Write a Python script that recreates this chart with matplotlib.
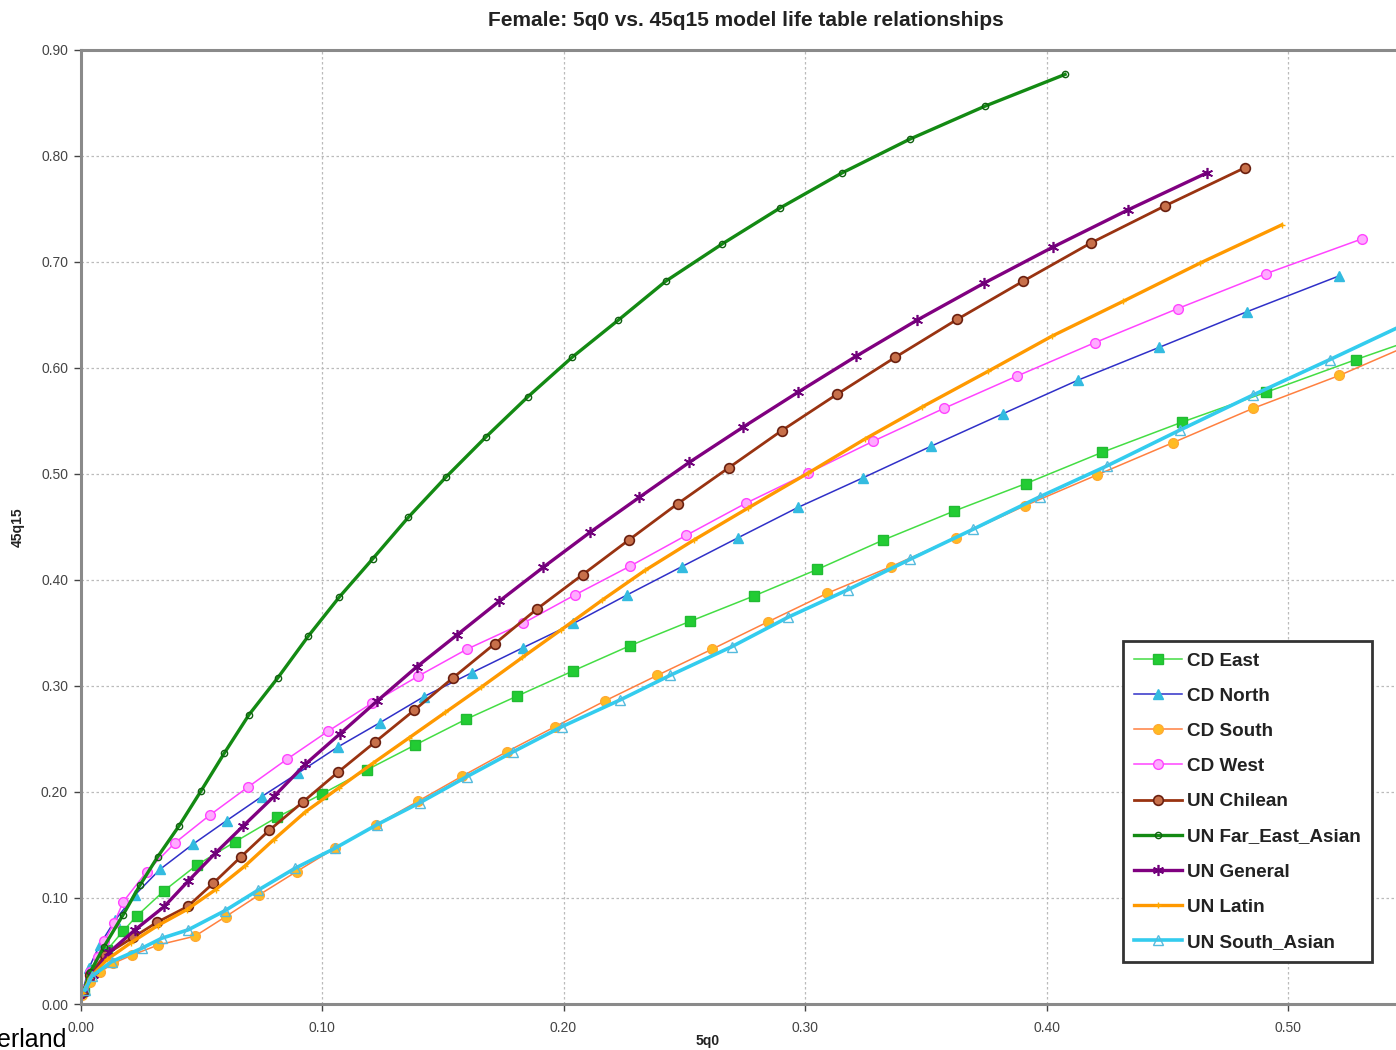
import matplotlib
matplotlib.use("Agg")
import matplotlib.pyplot as plt

plt.rcParams['font.family'] = ['Liberation Sans', 'DejaVu Sans']

# ---------------- data ----------------
cd_east_x = [0.0015, 0.005, 0.011, 0.0177, 0.0233, 0.0347, 0.0481, 0.064, 0.0812, 0.0999, 0.1185, 0.1385,
             0.1596, 0.1809, 0.2041, 0.2275, 0.2524, 0.2789, 0.3051, 0.3324, 0.3617, 0.3915, 0.4231,
             0.4562, 0.4908, 0.5282, 0.556]
cd_east_y = [0.013, 0.032, 0.051, 0.069, 0.083, 0.107, 0.131, 0.153, 0.176, 0.198, 0.2208, 0.2443,
             0.2686, 0.2906, 0.3144, 0.338, 0.361, 0.385, 0.410, 0.4377, 0.465, 0.491, 0.5205,
             0.549, 0.577, 0.608, 0.630]

cd_north_x = [0.001, 0.0035, 0.008, 0.0143, 0.0226, 0.0329, 0.0467, 0.0605, 0.075, 0.0902, 0.1067, 0.124,
              0.1422, 0.162, 0.1831, 0.2041, 0.2262, 0.2489, 0.2724, 0.2972, 0.3241, 0.352, 0.3821,
              0.4132, 0.4467, 0.4829, 0.5213]
cd_north_y = [0.013, 0.034, 0.056, 0.079, 0.103, 0.127, 0.151, 0.173, 0.1956, 0.218, 0.2427, 0.2654,
              0.290, 0.3125, 0.336, 0.359, 0.3858, 0.4125, 0.440, 0.4686, 0.4965, 0.526, 0.557,
              0.5887, 0.6195, 0.653, 0.687]

cd_south_x = [0.0006, 0.004, 0.008, 0.0136, 0.0212, 0.0322, 0.0474, 0.0601, 0.074, 0.0895, 0.1054, 0.1224,
              0.1399, 0.1581, 0.1765, 0.1965, 0.2172, 0.2388, 0.2614, 0.2848, 0.3092, 0.3355, 0.3625,
              0.391, 0.4208, 0.4523, 0.4856, 0.5213, 0.5547]
cd_south_y = [0.0085, 0.021, 0.030, 0.0384, 0.046, 0.0557, 0.064, 0.0824, 0.103, 0.125, 0.147, 0.169,
              0.1915, 0.215, 0.238, 0.2616, 0.286, 0.310, 0.3346, 0.3607, 0.3875, 0.4125, 0.440,
              0.470, 0.499, 0.5295, 0.562, 0.593, 0.626]

cd_west_x = [0.001, 0.004, 0.0071, 0.0099, 0.014, 0.0177, 0.0274, 0.0391, 0.0536, 0.0692, 0.0854, 0.1026,
             0.1206, 0.1399, 0.1599, 0.1831, 0.2048, 0.2275, 0.2507, 0.2754, 0.3014, 0.3283, 0.3576,
             0.3879, 0.4201, 0.4543, 0.4909, 0.5305]
cd_west_y = [0.013, 0.030, 0.0446, 0.0597, 0.0767, 0.0965, 0.1248, 0.152, 0.1783, 0.2044, 0.2308, 0.2575,
             0.2837, 0.3094, 0.3346, 0.359, 0.386, 0.413, 0.442, 0.4723, 0.501, 0.531, 0.562,
             0.5925, 0.624, 0.656, 0.689, 0.7217]

un_chilean_x = [0.001, 0.004, 0.010, 0.0219, 0.0316, 0.0444, 0.055, 0.0665, 0.0782, 0.0923, 0.1068, 0.1219,
                0.1381, 0.1544, 0.1716, 0.1892, 0.2079, 0.2272, 0.2473, 0.2685, 0.2904, 0.3131, 0.3373,
                0.3631, 0.3904, 0.4184, 0.4491, 0.4822]
un_chilean_y = [0.011, 0.027, 0.046, 0.063, 0.077, 0.092, 0.114, 0.139, 0.164, 0.191, 0.219, 0.247,
                0.277, 0.308, 0.340, 0.373, 0.405, 0.438, 0.472, 0.506, 0.541, 0.575, 0.610,
                0.646, 0.682, 0.718, 0.753, 0.789]

un_fareast_x = [0.001, 0.004, 0.0097, 0.0176, 0.0246, 0.032, 0.0408, 0.0499, 0.0595, 0.0698, 0.0818, 0.0943,
                0.1072, 0.121, 0.1357, 0.1513, 0.1679, 0.1853, 0.2035, 0.2226, 0.2424, 0.2657, 0.2897,
                0.3153, 0.3435, 0.3745, 0.4077]
un_fareast_y = [0.010, 0.030, 0.054, 0.084, 0.112, 0.139, 0.168, 0.201, 0.2365, 0.273, 0.308, 0.347,
                0.384, 0.420, 0.459, 0.497, 0.535, 0.573, 0.610, 0.645, 0.682, 0.717, 0.751,
                0.784, 0.816, 0.847, 0.877]

un_general_x = [0.001, 0.005, 0.012, 0.0226, 0.0347, 0.0446, 0.0557, 0.0674, 0.0802, 0.093, 0.1075, 0.1229,
                0.1392, 0.1558, 0.1734, 0.1916, 0.211, 0.2314, 0.2521, 0.2742, 0.297, 0.3211, 0.3463,
                0.3741, 0.4026, 0.4336, 0.4663]
un_general_y = [0.010, 0.027, 0.049, 0.070, 0.092, 0.116, 0.142, 0.168, 0.196, 0.226, 0.255, 0.286,
                0.318, 0.348, 0.380, 0.412, 0.445, 0.478, 0.511, 0.544, 0.577, 0.611, 0.645,
                0.680, 0.714, 0.749, 0.784]

un_latin_x = [0.001, 0.004, 0.011, 0.021, 0.032, 0.044, 0.056, 0.068, 0.080, 0.093, 0.107, 0.121,
              0.136, 0.151, 0.166, 0.183, 0.199, 0.216, 0.2337, 0.2542, 0.2765, 0.3014, 0.3248,
              0.3483, 0.3759, 0.4022, 0.4318, 0.4636, 0.4974]
un_latin_y = [0.010, 0.025, 0.042, 0.058, 0.074, 0.089, 0.108, 0.130, 0.155, 0.181, 0.204, 0.227,
              0.251, 0.275, 0.299, 0.327, 0.353, 0.381, 0.409, 0.438, 0.468, 0.501, 0.533,
              0.563, 0.597, 0.630, 0.663, 0.699, 0.735]

un_south_asian_x = [0.0019, 0.0046, 0.0129, 0.0253, 0.0336, 0.0446, 0.0598, 0.0736, 0.0888, 0.1054, 0.1226,
                    0.1406, 0.1599, 0.1792, 0.1993, 0.2234, 0.2441, 0.2696, 0.2931, 0.3179, 0.3435,
                    0.3697, 0.3973, 0.4249, 0.4553, 0.4855, 0.5174, 0.550]
un_south_asian_y = [0.013, 0.026, 0.040, 0.0525, 0.062, 0.070, 0.088, 0.1075, 0.128, 0.147, 0.169,
                    0.190, 0.2144, 0.238, 0.2616, 0.2868, 0.310, 0.337, 0.365, 0.391, 0.4195,
                    0.448, 0.4786, 0.5075, 0.5415, 0.5745, 0.608, 0.643]

series_names = ["CD East", "CD North", "CD South", "CD West", "UN Chilean",
                "UN Far_East_Asian", "UN General", "UN Latin", "UN South_Asian"]

x_ticks = [0.0, 0.1, 0.2, 0.3, 0.4, 0.5]
y_ticks = [0.0, 0.1, 0.2, 0.3, 0.4, 0.5, 0.6, 0.7, 0.8, 0.9]

title = "Female: 5q0 vs. 45q15 model life table relationships"
x_label = "5q0"
y_label = "45q15"

# ---------------- styles ----------------
styles = [
    dict(color='#44dd44', lw=1.1, marker='s', ms=7, mfc='#22cc33', mec='#22bb33'),
    dict(color='#3030c8', lw=1.1, marker='^', ms=7, mfc='#33bbe0', mec='#33bbe0'),
    dict(color='#ff8040', lw=1.1, marker='o', ms=7, mfc='#ffbb22', mec='#ffaa33'),
    dict(color='#ff44ff', lw=1.1, marker='o', ms=7, mfc='#ffaaff', mec='#ff44ff'),
    dict(color='#993311', lw=2.0, marker='o', ms=7, mfc='#c8704a', mec='#6a2010', mew=1.2),
    dict(color='#138a13', lw=2.4, marker='o', ms=4.5, mfc='none', mec='#106010', mew=1.0),
    dict(color='#800080', lw=2.4, marker=(6, 2, 0), ms=8, mfc='#800080', mec='#70007a', mew=1.2),
    dict(color='#ff9900', lw=2.4, marker='+', ms=5, mec='#ffaa00', mew=1.0),
    dict(color='#33ccee', lw=2.6, marker='^', ms=7, mfc='none', mec='#55bbdd', mew=1.0),
]

data = [
    (cd_east_x, cd_east_y), (cd_north_x, cd_north_y), (cd_south_x, cd_south_y),
    (cd_west_x, cd_west_y), (un_chilean_x, un_chilean_y), (un_fareast_x, un_fareast_y),
    (un_general_x, un_general_y), (un_latin_x, un_latin_y), (un_south_asian_x, un_south_asian_y),
]

# ---------------- figure ----------------
W, H = 1396, 1050
fig = plt.figure(figsize=(W / 100, H / 100), dpi=100)
ax = fig.add_axes([80.5 / W, 1 - 1004 / H, (W - 80.5) / W, (1004 - 50) / H])

for (xs, ys), name, st in zip(data, series_names, styles):
    ax.plot(xs, ys, label=name, **st, clip_on=True)

ax.set_xlim(0, (W - 80.5) / 2415)
ax.set_ylim(0, 0.9)
ax.set_xticks(x_ticks)
ax.set_yticks(y_ticks)
ax.set_xticklabels([f"{v:.2f}" for v in x_ticks])
ax.set_yticklabels([f"{v:.2f}" for v in y_ticks])
ax.tick_params(axis='both', labelsize=10, colors='#444444', length=5, width=1, direction='out', pad=4)
ax.tick_params(axis='x', pad=7)
ax.grid(True, color='#bbbbbb', linestyle=(0, (2, 2)), linewidth=0.9)
ax.set_axisbelow(True)
for side in ['left', 'bottom', 'top']:
    ax.spines[side].set_color('#8a8a8a')
    ax.spines[side].set_linewidth(2.2)
ax.spines['right'].set_visible(False)

fig.text(746 / W, 1 - 20 / H, title, ha='center', va='center', fontsize=15,
         fontweight='bold', color='#222222')
fig.text(708 / W, 1 - 1041 / H, x_label, ha='center', va='center', fontsize=10,
         fontweight='bold', color='#222222')
fig.text(18 / W, 1 - 527 / H, y_label, ha='center', va='center', fontsize=10,
         fontweight='bold', color='#222222', rotation=90)
fig.text(66 / W, 1 - 1047 / H, "erland", ha='right', va='baseline', fontsize=18, color='black')

leg = ax.legend(loc='upper left', bbox_to_anchor=((1123 - 80.5) / (W - 80.5), (1004 - 641) / 954),
                frameon=True, fancybox=False, edgecolor='#333333', framealpha=1,
                prop={'weight': 'bold', 'size': 13.6}, handlelength=2.5, handletextpad=0.3,
                labelspacing=0.95, borderpad=0.6, borderaxespad=0)
leg.get_frame().set_linewidth(2)
for t in leg.get_texts():
    t.set_color('#222222')

fig.savefig("out.png", dpi=100)
